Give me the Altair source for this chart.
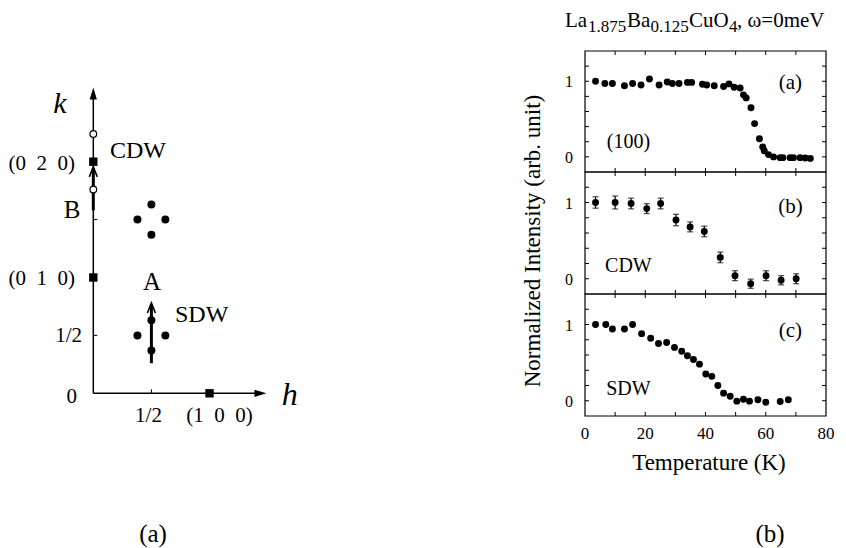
import altair as alt
import pandas as pd

# ---------------- data: right-hand panels (Temperature, normalized intensity) ----------------
T_100 = [3.5, 6.6, 9.1, 13.1, 15.8, 18.6, 21.4, 24.6, 27.3, 29.0, 31.2, 34.0, 35.4, 39.0,
         40.4, 42.9, 46.0, 47.8, 49.5, 51.5, 52.6, 53.5, 55.1, 56.3, 57.9, 59.0, 59.5, 60.9,
         62.6, 64.8, 65.7, 68.1, 69.2, 71.4, 73.1, 74.8]
I_100 = [1.00, 0.97, 0.97, 0.94, 0.97, 0.95, 1.03, 0.95, 0.99, 0.97, 0.97, 0.985, 0.985, 0.96,
         0.95, 0.94, 0.93, 0.965, 0.92, 0.91, 0.82, 0.78, 0.65, 0.44, 0.24, 0.13, 0.08, 0.03,
         0.00, -0.01, -0.01, -0.01, -0.01, -0.01, -0.015, -0.02]

T_CDW = [3.5, 10.0, 15.3, 20.5, 25.1, 30.2, 34.9, 39.6, 44.9, 49.8, 55.0, 60.1, 65.1, 70.1]
I_CDW = [1.00, 1.00, 0.987, 0.92, 0.987, 0.77, 0.68, 0.62, 0.28, 0.04, -0.065, 0.04, -0.02, 0.00]
E_CDW = [0.075, 0.085, 0.07, 0.065, 0.07, 0.075, 0.065, 0.07, 0.07, 0.065, 0.06, 0.065, 0.06, 0.065]

T_SDW = [3.5, 6.9, 9.1, 13.1, 15.8, 18.8, 21.8, 24.4, 27.1, 29.7, 32.1, 34.0, 36.0, 38.0,
         40.1, 42.1, 44.1, 46.0, 48.2, 50.4, 52.6, 54.6, 57.4, 60.0, 64.8, 67.5]
I_SDW = [1.00, 1.00, 0.94, 0.94, 1.00, 0.88, 0.82, 0.75, 0.765, 0.70, 0.65, 0.59, 0.54, 0.48,
         0.35, 0.32, 0.20, 0.10, 0.06, -0.005, 0.02, -0.005, 0.013, -0.02, -0.01, 0.013]

T_TICKS = [10, 20, 30, 40, 50, 60, 70]
T_LABELS = [0, 20, 40, 60, 80]
I_TICKS = [0, 0.2, 0.4, 0.6, 0.8, 1.0, 1.2]
I_LABELS = [0, 1]
PANEL_TAGS = ["(a)", "(b)", "(c)"]
PANEL_NAMES = ["(100)", "CDW", "SDW"]
X_TITLE = ["Temperature (K)"]
Y_TITLE = ["Normalized Intensity (arb. unit)"]
TITLE_PARTS = ["La", "1.875", "Ba", "0.125", "CuO", "4", ", ω=0meV"]
TITLE_SUB = [False, True, False, True, False, True, False]
CAPTIONS = ["(a)", "(b)"]

# ---------------- data: left-hand schematic (h, k) ----------------
SQ_H = [0, 0, 1]
SQ_K = [1, 2, 0]
OPEN_H = [0, 0]
OPEN_K = [2.24, 1.76]
DOT_H = [0.38, 0.62, 0.5, 0.5, 0.38, 0.62, 0.5, 0.5]
DOT_K = [0.5, 0.5, 0.63, 0.37, 1.5, 1.5, 1.63, 1.37]
ARROW_H = [0.5, 0.0]
ARROW_K0 = [0.26, 1.58]
ARROW_K1 = [0.78, 1.955]
SP = "\u2002"
K_TICK_LABELS = ["0", "1/2", f"(0{SP}1{SP}0)", f"(0{SP}2{SP}0)"]
K_TICK_VALUES = [0, 0.5, 1, 2]
H_TICK_LABELS = ["1/2", f"(1{SP}0{SP}0)"]
H_TICK_VALUES = [0.5, 1]
MINOR_K = [0.5, 1.5]
MINOR_H = [0.5]

FONT = "Liberation Serif"
layers = []

# ---------------- scales ----------------
X_RANGE = [585, 826]
PANEL_PIX = [(51, 172), (172, 294), (294, 416)]
PPX = (X_RANGE[1] - X_RANGE[0]) / 80.0


def tscale():
    return alt.Scale(domain=[0, 80], range=X_RANGE, nice=False, zero=False)


def iscale(p):
    top, bottom = PANEL_PIX[p]
    return alt.Scale(domain=[-0.2, 1.4], range=[bottom, top], nice=False, zero=False)


def hscale():
    return alt.Scale(domain=[0, 1], range=[93.3, 209.5], nice=False, zero=False)


def kscale():
    return alt.Scale(domain=[0, 2], range=[393.3, 161.7], nice=False, zero=False)


PPH = 209.5 - 93.3
PPK = (393.3 - 161.7) / 2.0


def TX(f):
    return alt.X(f, type="quantitative", scale=tscale(), axis=None)


def IY(f, p):
    return alt.Y(f, type="quantitative", scale=iscale(p), axis=None)


def HX(f):
    return alt.X(f, type="quantitative", scale=hscale(), axis=None)


def KY(f):
    return alt.Y(f, type="quantitative", scale=kscale(), axis=None)


TICK = 4.0
series = [(T_100, I_100, None), (T_CDW, I_CDW, E_CDW), (T_SDW, I_SDW, None)]

for p in range(3):
    top, bottom = PANEL_PIX[p]
    ppy = (bottom - top) / 1.6
    # frame
    fr = pd.DataFrame({"x0": [0], "x1": [80], "y0": [-0.2], "y1": [1.4]})
    layers.append(alt.Chart(fr).mark_rect(fill="white", fillOpacity=0, stroke="black", strokeWidth=1.2)
                  .encode(x=TX("x0"), x2="x1", y=IY("y0", p), y2="y1"))
    # x ticks (inward, bottom and top)
    xt = pd.DataFrame({"t": T_TICKS})
    xt["b0"] = -0.2
    xt["b1"] = -0.2 + TICK / ppy
    xt["u0"] = 1.4
    xt["u1"] = 1.4 - TICK / ppy
    layers.append(alt.Chart(xt).mark_rule(color="black", strokeWidth=1)
                  .encode(x=TX("t"), y=IY("b0", p), y2="b1"))
    layers.append(alt.Chart(xt).mark_rule(color="black", strokeWidth=1)
                  .encode(x=TX("t"), y=IY("u0", p), y2="u1"))
    # y ticks (inward, left and right)
    yt = pd.DataFrame({"v": I_TICKS})
    yt["l0"] = 0
    yt["l1"] = TICK / PPX
    yt["r0"] = 80
    yt["r1"] = 80 - TICK / PPX
    layers.append(alt.Chart(yt).mark_rule(color="black", strokeWidth=1)
                  .encode(x=TX("l0"), x2="l1", y=IY("v", p)))
    layers.append(alt.Chart(yt).mark_rule(color="black", strokeWidth=1)
                  .encode(x=TX("r0"), x2="r1", y=IY("v", p)))
    # y tick labels
    yl = pd.DataFrame({"v": I_LABELS, "t": [0] * len(I_LABELS), "lab": [str(v) for v in I_LABELS]})
    layers.append(alt.Chart(yl).mark_text(font=FONT, fontSize=16, align="right", baseline="middle",
                                          dx=-12, dy=1, color="black")
                  .encode(x=TX("t"), y=IY("v", p), text="lab:N"))
    # data
    T, I, E = series[p]
    d = pd.DataFrame({"T": T, "I": I})
    if E is not None:
        d["lo"] = [i - e for i, e in zip(I, E)]
        d["hi"] = [i + e for i, e in zip(I, E)]
        layers.append(alt.Chart(d).mark_rule(color="black", strokeWidth=1.2)
                      .encode(x=TX("T"), y=IY("lo", p), y2="hi"))
        layers.append(alt.Chart(d).mark_tick(color="black", orient="horizontal", size=6, thickness=1.2)
                      .encode(x=TX("T"), y=IY("lo", p)))
        layers.append(alt.Chart(d).mark_tick(color="black", orient="horizontal", size=6, thickness=1.2)
                      .encode(x=TX("T"), y=IY("hi", p)))
    layers.append(alt.Chart(d).mark_circle(size=48, color="black", opacity=1)
                  .encode(x=TX("T"), y=IY("I", p)))
    # panel annotations
    tag = pd.DataFrame({"T": [68.2], "I": [[0.897, 0.862, 0.836][p]], "lab": [PANEL_TAGS[p]]})
    layers.append(alt.Chart(tag).mark_text(font=FONT, fontSize=21, align="center", baseline="alphabetic",
                                           color="black")
                  .encode(x=TX("T"), y=IY("I", p), text="lab:N"))
    nm = pd.DataFrame({"T": [14.4], "I": [[0.117, 0.089, 0.075][p]], "lab": [PANEL_NAMES[p]]})
    layers.append(alt.Chart(nm).mark_text(font=FONT, fontSize=20, align="center", baseline="alphabetic",
                                          color="black")
                  .encode(x=TX("T"), y=IY("I", p), text="lab:N"))

# x tick labels under bottom panel
xl = pd.DataFrame({"t": T_LABELS, "y": [-0.2] * len(T_LABELS), "lab": [str(v) for v in T_LABELS]})
layers.append(alt.Chart(xl).mark_text(font=FONT, fontSize=17, align="center", baseline="middle",
                                      dy=18, color="black")
              .encode(x=TX("t"), y=IY("y", 2), text="lab:N"))

# axis titles
layers.append(alt.Chart(pd.DataFrame({"lab": X_TITLE})).mark_text(
    font=FONT, fontSize=23, align="center", baseline="alphabetic", color="black")
    .encode(x=alt.value(709), y=alt.value(470), text="lab:N"))
layers.append(alt.Chart(pd.DataFrame({"lab": Y_TITLE})).mark_text(
    font=FONT, fontSize=23, align="center", baseline="middle", angle=270, color="black")
    .encode(x=alt.value(533), y=alt.value(241), text="lab:N"))

# title with subscripts
TITLE_X = [565, 588, 627, 650.5, 689, 729, 737]
for part, sub, x in zip(TITLE_PARTS, TITLE_SUB, TITLE_X):
    layers.append(alt.Chart(pd.DataFrame({"lab": [part]})).mark_text(
        font=FONT, fontSize=17 if sub else 21, align="left", baseline="alphabetic", color="black")
        .encode(x=alt.value(x), y=alt.value(32 if sub else 27), text="lab:N"))

# captions
for cap, x in zip(CAPTIONS, [153, 770]):
    layers.append(alt.Chart(pd.DataFrame({"lab": [cap]})).mark_text(
        font=FONT, fontSize=25, align="center", baseline="alphabetic", color="black")
        .encode(x=alt.value(x), y=alt.value(542), text="lab:N"))

# ---------------- left schematic ----------------
H_TIP = 1.49
K_TIP = 2.64
AH = 6.0  # arrowhead half length in px
ax = pd.DataFrame({"h0": [0], "h1": [H_TIP - AH / PPH], "k0": [0]})
layers.append(alt.Chart(ax).mark_rule(color="black", strokeWidth=1.5)
              .encode(x=HX("h0"), x2="h1", y=KY("k0")))
ay = pd.DataFrame({"h0": [0], "k0": [0], "k1": [K_TIP - AH / PPK]})
layers.append(alt.Chart(ay).mark_rule(color="black", strokeWidth=1.5)
              .encode(x=HX("h0"), y=KY("k0"), y2="k1"))
# arrowheads on axes
layers.append(alt.Chart(pd.DataFrame({"h": [H_TIP - AH / PPH], "k": [0]})).mark_point(
    shape="M-1,-0.6L1,0L-1,0.6Z", filled=True, color="black", size=(2 * AH) ** 2, opacity=1, strokeWidth=0)
    .encode(x=HX("h"), y=KY("k")))
layers.append(alt.Chart(pd.DataFrame({"h": [0], "k": [K_TIP - AH / PPK]})).mark_point(
    shape="M-0.6,1L0,-1L0.6,1Z", filled=True, color="black", size=(2 * AH) ** 2, opacity=1, strokeWidth=0)
    .encode(x=HX("h"), y=KY("k")))
# minor ticks
mk = pd.DataFrame({"k": MINOR_K, "h0": [0] * len(MINOR_K), "h1": [4 / PPH] * len(MINOR_K)})
layers.append(alt.Chart(mk).mark_rule(color="black", strokeWidth=1)
              .encode(x=HX("h0"), x2="h1", y=KY("k")))
mh = pd.DataFrame({"h": MINOR_H, "k0": [0] * len(MINOR_H), "k1": [4 / PPK] * len(MINOR_H)})
layers.append(alt.Chart(mh).mark_rule(color="black", strokeWidth=1)
              .encode(x=HX("h"), y=KY("k0"), y2="k1"))
# arrow shafts
CH = 5.0  # chevron half height in px
ar = pd.DataFrame({"h": ARROW_H, "k0": ARROW_K0, "k1": [k - 1.5 / PPK for k in ARROW_K1],
                   "kc": [k - CH / PPK for k in ARROW_K1]})
layers.append(alt.Chart(ar).mark_rule(color="black", strokeWidth=3)
              .encode(x=HX("h"), y=KY("k0"), y2="k1"))
# incommensurate peaks
layers.append(alt.Chart(pd.DataFrame({"h": DOT_H, "k": DOT_K})).mark_circle(size=64, color="black", opacity=1)
              .encode(x=HX("h"), y=KY("k")))
# open circles
layers.append(alt.Chart(pd.DataFrame({"h": OPEN_H, "k": OPEN_K})).mark_point(
    shape="circle", filled=True, fill="white", stroke="black", strokeWidth=1.2, size=45, opacity=1)
    .encode(x=HX("h"), y=KY("k")))
# Bragg squares
layers.append(alt.Chart(pd.DataFrame({"h": SQ_H, "k": SQ_K})).mark_square(size=70, color="black", opacity=1)
              .encode(x=HX("h"), y=KY("k")))
# chevron heads
layers.append(alt.Chart(ar).mark_point(shape="M-0.8,1L0,-1L0.8,1", filled=False, color="black",
                                       strokeWidth=1.6, size=(2 * CH) ** 2, opacity=1)
              .encode(x=HX("h"), y=KY("kc")))

# schematic labels


def schem_text(labels, hs, ks, size, align, style="normal"):
    df = pd.DataFrame({"lab": labels, "h": hs, "k": ks})
    return (alt.Chart(df).mark_text(font=FONT, fontSize=size, align=align, baseline="alphabetic",
                                    fontStyle=style, color="black")
            .encode(x=HX("h"), y=KY("k"), text="lab:N"))


# k-axis tick labels (right-aligned left of axis)
K_LAB_BASE = [-0.083, 0.443, 0.935, 1.93]
layers.append(schem_text(K_TICK_LABELS, [-0.14, -0.097, -0.157, -0.157], K_LAB_BASE, 21, "right"))
# h-axis tick labels
layers.append(schem_text(H_TICK_LABELS, [0.475, 1.086], [-0.248, -0.248], 21, "center"))
# axis names
layers.append(schem_text(["k"], [-0.287], [2.42], 30, "center", "italic"))
layers.append(schem_text(["h"], [1.69], [-0.10], 32, "center", "italic"))
# region labels
layers.append(schem_text(["CDW", "SDW"], [0.143, 0.703], [2.032, 0.616], 24, "left"))
layers.append(schem_text(["B", "A"], [-0.183, 0.505], [1.514, 0.892], 25, "center"))

chart = (alt.layer(*layers)
         .resolve_scale(x="independent", y="independent")
         .properties(width=846, height=548, padding=0,
                     autosize=alt.AutoSizeParams(type="none"), background="white")
         .configure_view(stroke=None))

chart.save("out.html", embed_options={"renderer": "svg", "actions": False})
